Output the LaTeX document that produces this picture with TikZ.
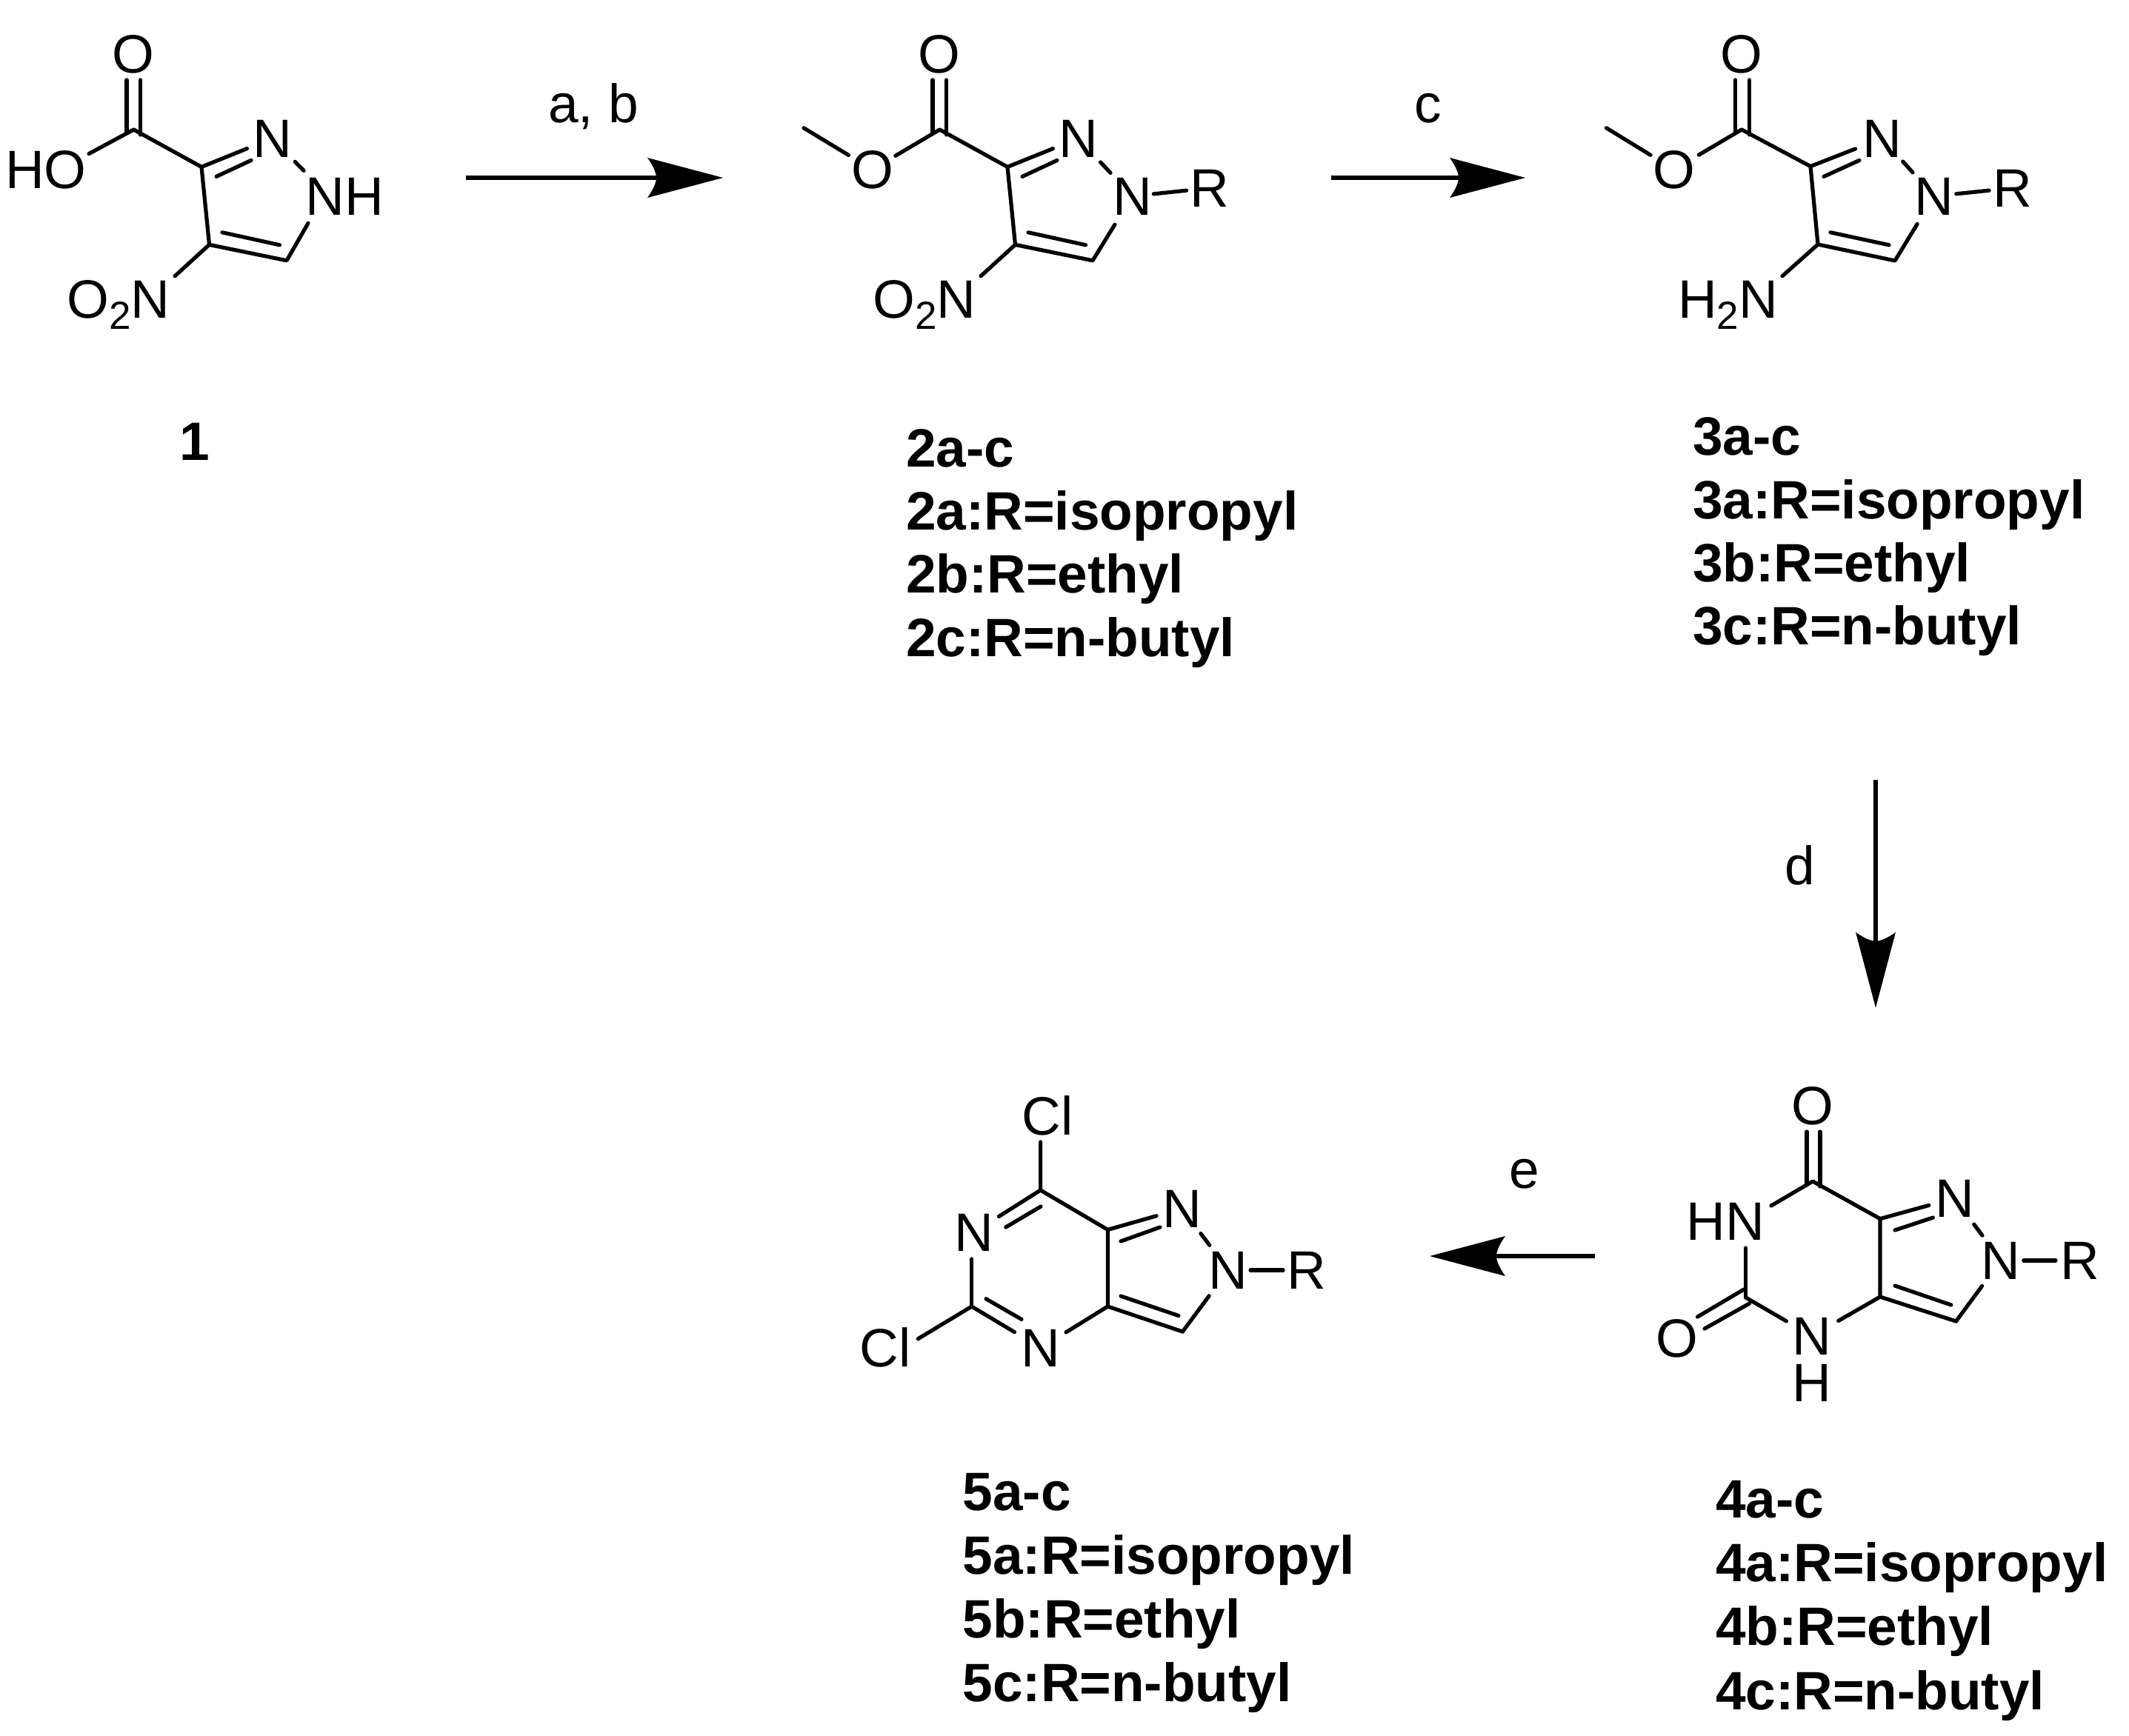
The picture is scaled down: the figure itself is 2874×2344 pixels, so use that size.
\documentclass[tikz,border=0pt]{standalone}
\usepackage{fontspec}
\setmainfont{Liberation Sans}
\usetikzlibrary{arrows.meta,calc}
\pgfdeclarearrow{
  name=ChemHead,
  setup code={
    \pgfarrowssettipend{0pt}
    \pgfarrowssetlineend{-45pt}
    \pgfarrowssetvisualbackend{-45pt}
    \pgfarrowssetbackend{-51pt}
    \pgfarrowshullpoint{-51pt}{13.5pt}
    \pgfarrowshullpoint{-51pt}{-13.5pt}
    \pgfarrowshullpoint{0pt}{0pt}
  },
  drawing code={
    \pgfpathmoveto{\pgfqpoint{0pt}{0pt}}
    \pgfpathlineto{\pgfqpoint{-51pt}{13.5pt}}
    \pgfpathcurveto{\pgfqpoint{-47pt}{8pt}}{\pgfqpoint{-45pt}{3pt}}{\pgfqpoint{-45pt}{0pt}}
    \pgfpathcurveto{\pgfqpoint{-45pt}{-3pt}}{\pgfqpoint{-47pt}{-8pt}}{\pgfqpoint{-51pt}{-13.5pt}}
    \pgfpathclose
    \pgfusepathqfill
  }
}
\newcommand{\subtwo}{\raisebox{-7.5pt}{\fontsize{26.5}{28}\selectfont 2}}
\newcommand{\innerbond}[5]{\coordinate (#1a) at (#2,#3);\coordinate (#1b) at (#4,#5);\draw[bond] (#1a) -- (#1b);}
\tikzset{
  bond/.style={line width=2.6pt,line cap=round,line join=round},
  reaction/.style={line width=2.9pt,-{ChemHead}},
  atom/.style={inner sep=0pt,outer sep=0pt,anchor=base,font=\fontsize{36.5}{40}\selectfont},
  atomw/.style={atom,anchor=base west},
  cmpd/.style={inner sep=0pt,outer sep=0pt,anchor=base west,font=\fontsize{36.5}{40}\selectfont\bfseries},
}
\begin{document}
\begin{tikzpicture}[x=0.5pt,y=-0.5pt]
\useasboundingbox (0,0) rectangle (2874,2344);

% ---- compound 1
\coordinate (aC1) at (180.5,175);
\coordinate (aC3) at (272,225.4);
\coordinate (aC4) at (282.5,330.4);
\coordinate (aC5) at (387,351.8);
\node[atom] (aO) at (180,98) {O};
\node[atom] (aN2) at (367.5,212) {N};
\node[atomw] (aHO) at (7,254) {HO};
\node[atomw] (aNH) at (412.5,290) {NH};
\node[atomw] (aNO) at (90.5,429) {O\subtwo N};
\coordinate (aHOp) at (120,207.6);
\coordinate (aNHt) at (410,230.4);
\coordinate (aNHb) at (416,301.3);
\coordinate (aNOp) at (236,372.8);
\draw[bond] (aHOp) -- (aC1) -- (aC3) -- (aC4) -- (aC5) -- (aNHb);
\draw[bond,shorten >=18.4pt] (aC3) -- (aN2.center);
\draw[bond,shorten <=22pt] (aN2.center) -- (aNHt);
\draw[bond] (aC4) -- (aNOp);
\innerbond{aD1}{171}{108}{171}{180}
\innerbond{aD2}{189.5}{108}{189.5}{182}
\innerbond{aD3}{292}{238.4}{339}{216.5}
\innerbond{aD4}{300}{313.8}{377.5}{330.8}
\node[cmpd,anchor=base] (lab1) at (263,621) {1};

% ---- compound 2
\coordinate (bMe) at (1085,172.8);
\coordinate (bC1) at (1268.5,175);
\coordinate (bC3) at (1360,225.4);
\coordinate (bC4) at (1370.5,330.4);
\coordinate (bC5) at (1475,351.8);
\node[atom] (bO) at (1268,98) {O};
\node[atom] (bOe) at (1177.5,254) {O};
\node[atom] (bN2) at (1455.5,212) {N};
\node[atom] (bN1) at (1528.5,290) {N};
\node[atom] (bR) at (1633,279) {R};
\node[atomw] (bNO) at (1178.5,429) {O\subtwo N};
\coordinate (bNOp) at (1324,372.8);
\draw[bond,shorten >=18.7pt] (bMe) -- (bOe.center);
\draw[bond,shorten <=18.2pt,shorten >=22.5pt] (bOe.center) -- (bC1) -- (bC3) -- (bC4) -- (bC5) -- (bN1.center);
\draw[bond,shorten >=18.4pt] (bC3) -- (bN2.center);
\draw[bond,shorten <=22pt,shorten >=21.5pt] (bN2.center) -- (bN1.center);
\draw[bond,shorten <=14.5pt,shorten >=15.8pt] (bN1.center) -- (bR.center);
\draw[bond] (bC4) -- (bNOp);
\innerbond{bD1}{1259}{108}{1259}{180}
\innerbond{bD2}{1277.5}{108}{1277.5}{182}
\innerbond{bD3}{1380}{238.4}{1427}{216.5}
\innerbond{bD4}{1388}{313.8}{1465.5}{330.8}
\node[cmpd] (lab2) at (1223,630.7) {2a-c};
\node[cmpd] (lab2a) at (1223,715.7) {2a:R=isopropyl};
\node[cmpd] (lab2b) at (1223,800.7) {2b:R=ethyl};
\node[cmpd] (lab2c) at (1223,886.7) {2c:R=n-butyl};

% ---- compound 3
\coordinate (cMe) at (2168.5,172.8);
\coordinate (cC1) at (2351,175);
\coordinate (cC3) at (2444,224.6);
\coordinate (cC4) at (2454,330);
\coordinate (cC5) at (2558,352);
\node[atom] (cO) at (2351,98) {O};
\node[atom] (cOe) at (2260,254) {O};
\node[atom] (cN2) at (2540.5,212) {N};
\node[atom] (cN1) at (2611,290) {N};
\node[atom] (cR) at (2716.5,279) {R};
\node[atomw] (cHN) at (2265,429) {H\subtwo N};
\coordinate (cHNp) at (2406,372.8);
\draw[bond,shorten >=18.7pt] (cMe) -- (cOe.center);
\draw[bond,shorten <=19.3pt,shorten >=22pt] (cOe.center) -- (cC1) -- (cC3) -- (cC4) -- (cC5) -- (cN1.center);
\draw[bond,shorten >=19.3pt] (cC3) -- (cN2.center);
\draw[bond,shorten <=21pt,shorten >=21.6pt] (cN2.center) -- (cN1.center);
\draw[bond,shorten <=15pt,shorten >=15.8pt] (cN1.center) -- (cR.center);
\draw[bond] (cC4) -- (cHNp);
\innerbond{cD1}{2342.5}{108}{2342.5}{180}
\innerbond{cD2}{2361.6}{108}{2361.6}{182}
\innerbond{cD3}{2462}{238.4}{2510}{216.5}
\innerbond{cD4}{2471}{313.8}{2550}{330.8}
\node[cmpd] (lab3) at (2285,614) {3a-c};
\node[cmpd] (lab3a) at (2285,700) {3a:R=isopropyl};
\node[cmpd] (lab3b) at (2285,785) {3b:R=ethyl};
\node[cmpd] (lab3c) at (2285,870.7) {3c:R=n-butyl};

% ---- compound 4
\coordinate (dC7) at (2447,1595);
\coordinate (dC7a) at (2538,1645.6);
\coordinate (dC3a) at (2538,1751);
\coordinate (dC3) at (2640.5,1784);
\coordinate (dC5) at (2356.7,1752);
\node[atom] (dO) at (2446.5,1518) {O};
\node[atom] (dOb) at (2263.8,1832) {O};
\node[atomw] (dHN) at (2276.8,1674) {HN};
\node[atom] (dN1) at (2638.5,1643) {N};
\node[atom] (dN2) at (2701,1727) {N};
\node[atom] (dR) at (2808,1727) {R};
\node[atom] (dN4) at (2446,1829) {N};
\node[atom] (dH) at (2446,1892) {H};
\coordinate (dHNt) at (2391,1628);
\coordinate (dHNb) at (2356.7,1685);
\draw[bond] (dHNt) -- (dC7) -- (dC7a) -- (dC3a) -- (dC3);
\draw[bond,shorten >=18pt] (dC7a) -- (dN1.center);
\draw[bond,shorten <=21.9pt,shorten >=21pt] (dN1.center) -- (dN2.center);
\draw[bond,shorten <=15.4pt,shorten >=16.5pt] (dN2.center) -- (dR.center);
\draw[bond,shorten >=21.4pt] (dC3) -- (dN2.center);
\draw[bond,shorten >=20.6pt] (dC3a) -- (dN4.center);
\draw[bond,shorten >=20pt] (dC5) -- (dN4.center);
\draw[bond] (dC5) -- (dHNb);
\innerbond{dD1}{2439}{1528}{2439}{1600}
\innerbond{dD2}{2457}{1528}{2457}{1602}
\innerbond{dD3}{2558}{1661}{2609.4}{1644}
\innerbond{dD4}{2558}{1736}{2634}{1762}
\innerbond{dD5}{2354}{1741}{2291.5}{1778}
\innerbond{dD6}{2361.6}{1760}{2301}{1794}
\node[cmpd] (lab4) at (2316,2049.7) {4a-c};
\node[cmpd] (lab4a) at (2316,2135.6) {4a:R=isopropyl};
\node[cmpd] (lab4b) at (2316,2221.8) {4b:R=ethyl};
\node[cmpd] (lab4c) at (2316,2308) {4c:R=n-butyl};

% ---- compound 5
\coordinate (eC7) at (1404.6,1607);
\coordinate (eC7a) at (1495.4,1660.4);
\coordinate (eC3a) at (1495.4,1764);
\coordinate (eC3) at (1596.4,1798);
\coordinate (eC5) at (1311.7,1764);
\node[atomw] (eCl) at (1379.5,1532.6) {Cl};
\node[atomw] (eClb) at (1160.4,1845) {Cl};
\node[atom] (eN6) at (1314.5,1689) {N};
\node[atom] (eN1) at (1595.7,1657) {N};
\node[atom] (eN2) at (1658,1740) {N};
\node[atom] (eR) at (1764,1740) {R};
\node[atom] (eN4) at (1405,1845) {N};
\coordinate (eClp) at (1404.6,1542);
\coordinate (eClbp) at (1239.3,1807.7);
\draw[bond] (eClp) -- (eC7) -- (eC7a) -- (eC3a) -- (eC3);
\draw[bond,shorten >=20pt] (eC7) -- (eN6.center);
\draw[bond,shorten >=18pt] (eC5) -- (eC5 |- eN6.center);
\draw[bond,shorten >=18pt] (eC7a) -- (eN1.center);
\draw[bond,shorten <=21pt,shorten >=21pt] (eN1.center) -- (eN2.center);
\draw[bond,shorten <=15pt,shorten >=16pt] (eN2.center) -- (eR.center);
\draw[bond,shorten >=21.7pt] (eC3) -- (eN2.center);
\draw[bond,shorten >=20pt] (eC3a) -- (eN4.center);
\draw[bond,shorten >=20.7pt] (eC5) -- (eN4.center);
\draw[bond] (eC5) -- (eClbp);
\innerbond{eD1}{1405}{1629}{1357.7}{1657}
\innerbond{eD2}{1513}{1676}{1566}{1657}
\innerbond{eD3}{1513}{1750}{1591}{1776.5}
\innerbond{eD4}{1331}{1753.7}{1379}{1781.4}
\node[cmpd] (lab5) at (1299.5,2039) {5a-c};
\node[cmpd] (lab5a) at (1299.5,2125.5) {5a:R=isopropyl};
\node[cmpd] (lab5b) at (1299.5,2211) {5b:R=ethyl};
\node[cmpd] (lab5c) at (1299.5,2297) {5c:R=n-butyl};

% ---- reaction arrows and conditions
\coordinate (ab1) at (629,240);
\coordinate (ab2) at (976,240);
\draw[reaction] (ab1) -- (ab2);
\node[atomw] (tab) at (740,165) {a, b};
\coordinate (c1) at (1797,240);
\coordinate (c2) at (2059,240);
\draw[reaction] (c1) -- (c2);
\node[atom] (tc) at (1928,165) {c};
\coordinate (d1) at (2532,1053);
\coordinate (d2) at (2532,1360.7);
\draw[reaction] (d1) -- (d2);
\node[atom] (td) at (2429.5,1194.7) {d};
\coordinate (e1) at (2152.7,1696);
\coordinate (e2) at (1930,1696);
\draw[reaction] (e1) -- (e2);
\node[atom] (te) at (2057.5,1604) {e};
\end{tikzpicture}
\end{document}
